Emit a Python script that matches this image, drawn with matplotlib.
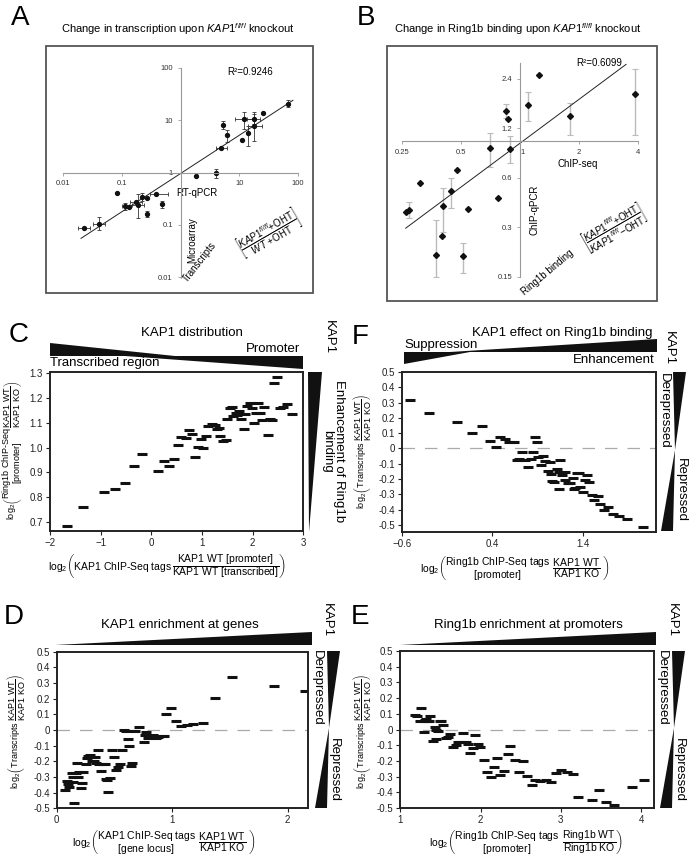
import numpy as np
import matplotlib.pyplot as plt
from matplotlib.patches import Polygon, Rectangle
from matplotlib.ticker import FixedLocator, FixedFormatter, NullLocator

plt.rcParams['font.family'] = ['Liberation Sans', 'DejaVu Sans']
plt.rcParams['mathtext.fontset'] = 'custom'
plt.rcParams['mathtext.rm'] = 'Liberation Sans'
plt.rcParams['mathtext.it'] = 'Liberation Sans:italic'
plt.rcParams['mathtext.bf'] = 'Liberation Sans:bold'

# ---- panel A: microarray vs RT-qPCR fold change
a_x = [0.0225, 0.0405, 0.083, 0.1155, 0.132, 0.19, 0.178, 0.225, 0.27, 0.39, 0.274, 0.493,
       1.87, 4.0, 4.87, 5.33, 6.24, 10.96, 12.0, 14.2, 17.5, 18.0, 25.6, 68.4]
a_y = [0.0875, 0.105, 0.40, 0.229, 0.222, 0.24, 0.273, 0.34, 0.32, 0.394, 0.163, 0.246,
       0.875, 0.97, 2.89, 8.26, 5.3, 4.25, 10.4, 5.7, 10.6, 7.9, 13.6, 20.6]
a_xlo = [0.018, 0.033, 0.083, 0.10, 0.132, 0.15, 0.14, 0.225, 0.27, 0.30, 0.274, 0.493,
         1.87, 4.0, 4.0, 5.33, 6.24, 10.96, 8.4, 14.2, 13.3, 14.2, 25.6, 68.4]
a_xhi = [0.029, 0.051, 0.083, 0.135, 0.132, 0.24, 0.22, 0.225, 0.27, 0.616, 0.274, 0.493,
         1.87, 4.0, 6.08, 5.33, 6.24, 10.96, 18.5, 14.2, 22.5, 24.0, 25.6, 68.4]
a_ylo = [0.0875, 0.078, 0.40, 0.19, 0.222, 0.136, 0.273, 0.285, 0.32, 0.394, 0.14, 0.213,
         0.875, 0.80, 2.89, 6.8, 3.78, 4.25, 6.8, 3.26, 8.5, 4.06, 13.6, 17.8]
a_yhi = [0.0875, 0.14, 0.40, 0.265, 0.222, 0.383, 0.273, 0.41, 0.32, 0.394, 0.183, 0.285,
         0.875, 1.16, 2.89, 9.86, 6.5, 4.25, 14.3, 7.9, 13.2, 14.3, 13.6, 23.9]

# ---- panel B: ChIP-qPCR vs ChIP-seq
b_x = [0.262, 0.271, 0.308, 0.372, 0.399, 0.407, 0.444, 0.477, 0.541, 0.514, 0.70, 0.773,
       0.853, 0.87, 0.888, 1.104, 1.248, 1.80, 3.85]
b_y = [0.369, 0.384, 0.56, 0.203, 0.265, 0.403, 0.50, 0.668, 0.387, 0.20, 0.906, 0.449,
       1.54, 1.37, 0.897, 1.67, 2.54, 1.43, 1.94]
b_ylo = [0.369, 0.34, 0.56, 0.149, 0.265, 0.281, 0.394, 0.668, 0.387, 0.159, 0.702, 0.449,
         1.38, 1.37, 0.735, 1.33, 2.54, 1.10, 1.09]
b_yhi = [0.369, 0.429, 0.56, 0.331, 0.265, 0.52, 0.60, 0.668, 0.387, 0.239, 1.12, 0.449,
         1.70, 1.37, 1.077, 2.0, 2.54, 1.72, 2.75]

# ---- panel C: KAP1 distribution vs Ring1b enhancement
c_x = [-1.673, -1.346, -0.933, -0.717, -0.514, -0.344, -0.181, 0.140, 0.245, 0.350, 0.441,
       0.520, 0.585, 0.683, 0.742, 0.801, 0.860, 0.919, 0.978, 1.030, 1.082, 1.128, 1.207,
       1.253, 1.305, 1.338, 1.364, 1.410, 1.475, 1.501, 1.554, 1.599, 1.606, 1.671, 1.691,
       1.730, 1.776, 1.829, 1.848, 1.888, 1.940, 1.979, 2.025, 2.058, 2.103, 2.143, 2.188,
       2.221, 2.300, 2.339, 2.385, 2.418, 2.483, 2.535, 2.601, 2.679, 2.777]
c_y = [0.685, 0.760, 0.822, 0.831, 0.856, 0.926, 0.973, 0.907, 0.945, 0.926, 0.953,
       1.012, 1.044, 1.040, 1.071, 1.055, 0.963, 1.001, 1.033, 0.998, 1.047, 1.085, 1.096,
       1.089, 1.073, 1.080, 1.047, 1.025, 1.032, 1.116, 1.161, 1.163, 1.127, 1.139, 1.130,
       1.146, 1.116, 1.076, 1.134, 1.167, 1.180, 1.160, 1.100, 1.139, 1.180, 1.141, 1.111,
       1.165, 1.050, 1.114, 1.110, 1.262, 1.284, 1.158, 1.163, 1.175, 1.135]

# ---- panel F: Ring1b change vs transcript change
f_x = [-0.505, -0.301, 0.006, 0.177, 0.290, 0.378, 0.440, 0.488, 0.539, 0.582, 0.634, 0.670,
       0.721, 0.688, 0.758, 0.794, 0.823, 0.842, 0.864, 0.889, 0.904, 0.933, 0.958, 0.984,
       1.013, 1.031, 1.050, 1.061, 1.079, 1.115, 1.130, 1.137, 1.148, 1.166, 1.196, 1.203,
       1.232, 1.258, 1.287, 1.298, 1.309, 1.327, 1.349, 1.367, 1.396, 1.418, 1.444, 1.466,
       1.499, 1.524, 1.561, 1.590, 1.626, 1.674, 1.725, 1.794, 1.889, 2.064]
f_y = [0.318, 0.232, 0.173, 0.103, 0.145, 0.050, 0.007, 0.077, 0.064, 0.044, 0.044, -0.077,
       -0.024, -0.070, -0.079, -0.123, -0.072, -0.022, 0.077, 0.039, -0.055, -0.107, -0.048,
       -0.081, -0.147, -0.088, -0.167, -0.215, -0.221, -0.136, -0.268, -0.154, -0.075, -0.173,
       -0.156, -0.206, -0.226, -0.224, -0.193, -0.268, -0.259, -0.158, -0.164, -0.252, -0.283,
       -0.208, -0.175, -0.221, -0.303, -0.340, -0.309, -0.362, -0.404, -0.382, -0.432, -0.441,
       -0.465, -0.511]

# ---- panel D: KAP1 enrichment vs transcript change
d_x = [0.072, 0.087, 0.101, 0.110, 0.130, 0.139, 0.153, 0.144, 0.165, 0.179, 0.188, 0.196,
       0.211, 0.222, 0.231, 0.251, 0.260, 0.274, 0.291, 0.303, 0.320, 0.332, 0.341, 0.355,
       0.369, 0.384, 0.401, 0.418, 0.424, 0.433, 0.447, 0.462, 0.476, 0.496, 0.511, 0.528,
       0.551, 0.569, 0.586, 0.600, 0.615, 0.626, 0.644, 0.655, 0.678, 0.713, 0.756, 0.765,
       0.776, 0.794, 0.817, 0.837, 0.857, 0.880, 0.903, 0.926, 0.950, 0.990, 1.030, 1.076,
       1.128, 1.183, 1.267, 1.374, 1.515, 1.882, 2.150]
d_y = [-0.381, -0.323, -0.347, -0.366, -0.277, -0.334, -0.466, -0.302, -0.274, -0.211, -0.300,
       -0.270, -0.372, -0.338, -0.266, -0.217, -0.177, -0.164, -0.160, -0.196, -0.200, -0.170,
       -0.211, -0.126, -0.217, -0.262, -0.217, -0.217, -0.313, -0.317, -0.398, -0.306, -0.126,
       -0.174, -0.253, -0.236, -0.217, -0.126, 0.002, -0.009, -0.057, -0.100, -0.232, -0.211,
       -0.004, 0.017, -0.074, -0.032, -0.011, -0.053, -0.036, -0.032, -0.049, -0.047, -0.040,
       -0.036, 0.104, 0.138, 0.057, 0.028, 0.034, 0.040, 0.043, 0.204, 0.336, 0.283, 0.251]

# ---- panel E: Ring1b enrichment vs transcript change
e_x = [1.178, 1.207, 1.241, 1.257, 1.290, 1.307, 1.324, 1.336, 1.357, 1.365, 1.295, 1.407,
       1.440, 1.427, 1.469, 1.440, 1.490, 1.510, 1.531, 1.564, 1.593, 1.614, 1.656, 1.689,
       1.722, 1.759, 1.780, 1.813, 1.842, 1.871, 1.905, 1.925, 1.967, 1.996, 2.041, 2.083,
       2.133, 2.170, 2.203, 2.245, 2.286, 2.336, 2.361, 2.427, 2.477, 2.527, 2.577, 2.635,
       2.680, 2.743, 2.809, 2.876, 2.934, 3.000, 3.075, 3.149, 3.216, 3.382, 3.469, 3.556,
       3.664, 3.888, 4.041]
e_y = [0.093, 0.089, 0.055, 0.136, 0.055, 0.061, 0.068, 0.055, 0.051, 0.089, -0.017, -0.076,
       -0.059, 0.019, -0.008, -0.002, 0.051, 0.055, 0.030, -0.051, -0.047, -0.030, -0.114,
       -0.097, -0.081, -0.081, -0.025, -0.081, -0.093, -0.148, -0.119, -0.038, -0.093, -0.114,
       -0.193, -0.271, -0.301, -0.237, -0.182, -0.292, -0.267, -0.155, -0.106, -0.195, -0.271,
       -0.203, -0.297, -0.356, -0.324, -0.331, -0.320, -0.333, -0.275, -0.256, -0.273, -0.282,
       -0.432, -0.451, -0.383, -0.464, -0.481, -0.369, -0.320]

W, H = 690, 860
fig = plt.figure(figsize=(W / 100, H / 100), dpi=100)


def box(x0, y0, x1, y1):
    return [x0 / W, 1 - y1 / H, (x1 - x0) / W, (y1 - y0) / H]


ov = fig.add_axes([0, 0, 1, 1])
ov.set_xlim(0, W)
ov.set_ylim(H, 0)
ov.axis('off')


def T(x, y, s, **kw):
    kw.setdefault('ha', 'center')
    kw.setdefault('va', 'center')
    ov.text(x, y, s, **kw)


def tri(pts, color='#111111'):
    ov.add_patch(Polygon(pts, closed=True, color=color, lw=0))


def asym(v, lo, hi):
    v, lo, hi = np.asarray(v), np.asarray(lo), np.asarray(hi)
    return [v - lo, hi - v]


# ================= A =================
ov.add_patch(Rectangle((46, 46), 267, 247, fill=False, ec='#555555', lw=1.3))
T(20, 18, 'A', fontsize=20)
T(178, 29, r'Change in transcription upon $\mathit{KAP1}^{\mathit{fl/fl}}$ knockout', fontsize=8)
axA = fig.add_axes(box(63, 68, 298, 277))
axA.patch.set_alpha(0)
axA.set_xscale('log')
axA.set_yscale('log')
axA.set_xlim(0.01, 100)
axA.set_ylim(0.01, 100)
for s in ['top', 'right']:
    axA.spines[s].set_visible(False)
for s in ['left', 'bottom']:
    axA.spines[s].set_position(('data', 1))
    axA.spines[s].set_color('#999999')
    axA.spines[s].set_linewidth(0.8)
dec = [0.01, 0.1, 1, 10, 100]
axA.xaxis.set_major_locator(FixedLocator(dec))
axA.xaxis.set_major_formatter(FixedFormatter(['0.01', '0.1', '', '10', '100']))
axA.yaxis.set_major_locator(FixedLocator(dec))
axA.yaxis.set_major_formatter(FixedFormatter(['0.01', '0.1', '1', '10', '100']))
axA.xaxis.set_minor_locator(NullLocator())
axA.yaxis.set_minor_locator(NullLocator())
axA.tick_params(labelsize=5.5, colors='#999999', labelcolor='#333333', length=2, width=0.6)
axA.errorbar(a_x, a_y, xerr=asym(a_x, a_xlo, a_xhi), yerr=asym(a_y, a_ylo, a_yhi), fmt='o',
             ms=2.8, color='#111111', ecolor='#333333', elinewidth=0.6, capsize=1.5, capthick=0.6)
pa = np.polyfit(np.log10(a_x), np.log10(a_y), 1)
lx = np.array([min(a_x) * 0.9, max(a_x) * 1.2])
axA.plot(lx, 10 ** np.polyval(pa, np.log10(lx)), color='#222222', lw=0.7)
T(250, 72, 'R²=0.9246', fontsize=7)
T(197, 193, 'RT-qPCR', fontsize=7)
T(192, 240, 'Microarray', fontsize=7, rotation=90)
T(200, 262, 'Transcripts', fontsize=7, rotation=52)
T(268, 233, r'$\left[\dfrac{\mathit{KAP1}^{\mathit{fl/fl}}\mathrm{+OHT}}{\mathit{WT}\ \mathrm{+OHT}}\right]$',
  fontsize=7, rotation=30)

# ================= B =================
ov.add_patch(Rectangle((387, 46), 270, 255, fill=False, ec='#555555', lw=1.3))
T(366, 18, 'B', fontsize=20)
T(518, 29, r'Change in Ring1b binding upon $\mathit{KAP1}^{\mathit{fl/fl}}$ knockout', fontsize=8)
axB = fig.add_axes(box(401.7, 63, 638.3, 276.7))
axB.patch.set_alpha(0)
axB.set_xscale('log', base=2)
axB.set_yscale('log', base=2)
axB.set_xlim(0.25, 4)
axB.set_ylim(0.15, 3.0)
for s in ['top', 'right']:
    axB.spines[s].set_visible(False)
for s in ['left', 'bottom']:
    axB.spines[s].set_position(('data', 1))
    axB.spines[s].set_color('#999999')
    axB.spines[s].set_linewidth(0.8)
bx_t = [0.25, 0.5, 1, 2, 4]
by_t = [0.15, 0.3, 0.6, 1.2, 2.4]
axB.xaxis.set_major_locator(FixedLocator(bx_t))
axB.xaxis.set_major_formatter(FixedFormatter(['0.25', '0.5', '1', '2', '4']))
axB.yaxis.set_major_locator(FixedLocator(by_t))
axB.yaxis.set_major_formatter(FixedFormatter(['0.15', '0.3', '0.6', '1.2', '2.4']))
axB.xaxis.set_minor_locator(NullLocator())
axB.yaxis.set_minor_locator(NullLocator())
axB.tick_params(labelsize=5.5, colors='#999999', labelcolor='#333333', length=2, width=0.6)
for lab in axB.get_xticklabels():
    if lab.get_text() == '1':
        lab.set_horizontalalignment('left')
axB.errorbar(b_x, b_y, yerr=asym(b_y, b_ylo, b_yhi), fmt='D', ms=3, color='#111111',
             ecolor='#bbbbbb', elinewidth=1.0, capsize=2, capthick=0.8)
pb = np.polyfit(np.log2(b_x), np.log2(b_y), 1)
lx = np.array([min(b_x), max(b_x) * 0.9])
axB.plot(lx, 2 ** np.polyval(pb, np.log2(lx)), color='#222222', lw=0.7)
T(599, 63, 'R²=0.6099', fontsize=7)
T(578, 164, 'ChIP-seq', fontsize=7)
T(535, 210, 'ChIP-qPCR', fontsize=7, rotation=90)
T(547, 272, 'Ring1b binding', fontsize=7, rotation=40)
T(614, 228, r'$\left[\dfrac{\mathit{KAP1}^{\mathit{fl/fl}}\mathrm{+OHT}}{\mathit{KAP1}^{\mathit{fl/fl}}\mathrm{-OHT}}\right]$',
  fontsize=7, rotation=30)


def dash_panel(ax_box, xs, ys, xlim, ylim, xt, yt, zero=False):
    ax = fig.add_axes(box(*ax_box))
    ax.patch.set_alpha(0)
    ax.set_xlim(*xlim)
    ax.set_ylim(*ylim)
    for s in ax.spines.values():
        s.set_linewidth(1.4)
        s.set_color('#222222')
    ax.set_xticks(xt)
    ax.set_yticks(yt)
    ax.tick_params(labelsize=7, length=3, width=0.8, colors='#222222', pad=2)
    if zero:
        ax.axhline(0, color='#aaaaaa', lw=0.9, dashes=(10, 8))
    ax.plot(xs, ys, ls='none', marker='_', ms=7, mew=2.2, color='#111111')
    return ax


yt_t = [0.5, 0.4, 0.3, 0.2, 0.1, 0, -0.1, -0.2, -0.3, -0.4, -0.5]
yt_l = ['0.5', '0.4', '0.3', '0.2', '0.1', '0', '-0.1', '-0.2', '-0.3', '-0.4', '-0.5']
y_lab = r'$\log_2\!\left(\mathrm{Transcripts}\ \dfrac{\mathrm{KAP1\ WT}}{\mathrm{KAP1\ KO}}\right)$'

# ================= C =================
T(19, 335, 'C', fontsize=20)
T(192, 333, 'KAP1 distribution', fontsize=9.5)
tri([(50, 343), (50, 356), (175, 356)])
tri([(125, 356), (303, 356), (303, 369)])
T(300, 349, 'Promoter', fontsize=9.5, ha='right')
T(50, 363, 'Transcribed region', fontsize=9.5, ha='left')
T(329, 337, 'KAP1', fontsize=9.5, rotation=270)
tri([(308, 372), (322, 372), (309, 532)])
T(333, 451, 'Enhancement of Ring1b\nbinding', fontsize=9.5, rotation=270, linespacing=0.9)
axC = dash_panel((50, 372, 303.3, 531), c_x, c_y, (-2, 3), (0.663, 1.305),
                 [-2, -1, 0, 1, 2, 3], [0.7, 0.8, 0.9, 1.0, 1.1, 1.2, 1.3])
axC.set_yticklabels(['0.7', '0.8', '0.9', '1.0', '1.1', '1.2', '1.3'])
T(167, 566, r'$\log_2\!\left(\mathrm{KAP1\ ChIP\text{-}Seq\ tags}\,\dfrac{\mathrm{KAP1\ WT\ [promoter]}}{\mathrm{KAP1\ WT\ [transcribed]}}\right)$',
  fontsize=7.5)
T(13, 450, r'$\log_2\!\left(\genfrac{}{}{0}{0}{\text{Ring1b ChIP-Seq}}{\text{[promoter]}}\dfrac{\mathrm{KAP1\ WT}}{\mathrm{KAP1\ KO}}\right)$',
  fontsize=6.5, rotation=90)

# ================= F =================
T(360, 337, 'F', fontsize=20)
T(562, 333, 'KAP1 effect on Ring1b binding', fontsize=9.5)
tri([(404, 352), (404, 364), (470, 352)])
tri([(450, 352), (657, 339), (657, 352)])
T(404, 345, 'Suppression', fontsize=9.5, ha='left')
T(655, 360, 'Enhancement', fontsize=9.5, ha='right')
T(669, 348, 'KAP1', fontsize=9.5, rotation=270)
tri([(673, 372), (686, 372), (675, 450)])
tri([(675, 450), (661, 531), (673, 531)])
T(664, 411, 'Derepressed', fontsize=9.5, rotation=270)
T(681, 490, 'Repressed', fontsize=9.5, rotation=270)
axF = dash_panel((401.7, 372, 655.7, 531.7), f_x, f_y, (-0.6, 2.2), (-0.545, 0.5),
                 [-0.6, 0.4, 1.4], yt_t, zero=True)
axF.set_yticklabels(yt_l)
T(515, 568, r'$\log_2\!\left(\genfrac{}{}{0}{0}{\text{Ring1b ChIP-Seq tags}}{\text{[promoter]}}\ \dfrac{\mathrm{KAP1\ WT}}{\mathrm{KAP1\ KO}}\ \right)$',
  fontsize=7.5)
T(362, 452, y_lab, fontsize=6.5, rotation=90)

# ================= D =================
T(14, 617, 'D', fontsize=20)
T(180, 625, 'KAP1 enrichment at genes', fontsize=9.5)
tri([(55, 645), (312, 645), (312, 632)])
T(327, 620, 'KAP1', fontsize=9.5, rotation=270)
tri([(327, 651), (340, 651), (329, 728)])
tri([(329, 728), (315, 808), (327, 808)])
T(317, 688, 'Derepressed', fontsize=9.5, rotation=270)
T(334, 770, 'Repressed', fontsize=9.5, rotation=270)
axD = dash_panel((56.7, 651.7, 308.3, 808.3), d_x, d_y, (0, 2.18), (-0.5, 0.5),
                 [0, 1, 2], yt_t, zero=True)
axD.set_yticklabels(yt_l)
T(164, 842, r'$\log_2\!\left(\genfrac{}{}{0}{0}{\text{KAP1 ChIP-Seq tags}}{\text{[gene locus]}}\ \dfrac{\mathrm{KAP1\ WT}}{\mathrm{KAP1\ KO}}\ \right)$',
  fontsize=7.5)
T(16, 732, y_lab, fontsize=6.5, rotation=90)

# ================= E =================
T(360, 617, 'E', fontsize=20)
T(528, 625, 'Ring1b enrichment at promoters', fontsize=9.5)
tri([(400, 645), (656, 645), (656, 632)])
T(672, 620, 'KAP1', fontsize=9.5, rotation=270)
tri([(672, 651), (685, 651), (674, 728)])
tri([(674, 728), (660, 808), (672, 808)])
T(662, 688, 'Derepressed', fontsize=9.5, rotation=270)
T(679, 770, 'Repressed', fontsize=9.5, rotation=270)
axE = dash_panel((400.3, 651, 654, 808), e_x, e_y, (1, 4.16), (-0.5, 0.5),
                 [1, 2, 3, 4], yt_t, zero=True)
axE.set_yticklabels(yt_l)
T(526, 842, r'$\log_2\!\left(\genfrac{}{}{0}{0}{\text{Ring1b ChIP-Seq tags}}{\text{[promoter]}}\ \dfrac{\mathrm{Ring1b\ WT}}{\mathrm{Ring1b\ KO}}\right)$',
  fontsize=7.5)
T(362, 732, y_lab, fontsize=6.5, rotation=90)

fig.savefig('out.png', dpi=100)
